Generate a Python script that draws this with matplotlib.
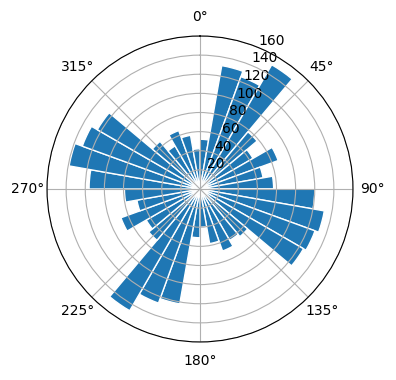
import numpy as np
import matplotlib
matplotlib.use("Agg")
import matplotlib.pyplot as plt

# direction bins (degrees, clockwise from north) and counts
bin_deg = np.arange(5, 360, 10)
counts = [52, 131, 125, 150, 78, 64, 87, 67, 77,
          120, 132, 128, 125, 65, 62, 69, 58, 40,
          51, 122, 127, 147, 70, 65, 88, 67, 79,
          116, 139, 131, 124, 65, 52, 65, 57, 42]

fig = plt.figure(figsize=(3.96, 3.8), dpi=100)
ax = fig.add_axes([0.1187, 0.1, 0.7727, 0.8053], projection="polar")
ax.set_theta_zero_location("N")
ax.set_theta_direction(-1)

ax.bar(np.deg2rad(bin_deg), counts, width=np.deg2rad(10),
       color="#1f77b4", edgecolor="white", linewidth=1)
ax.set_ylim(0, 160)

fig.savefig("out.png", dpi=100)
